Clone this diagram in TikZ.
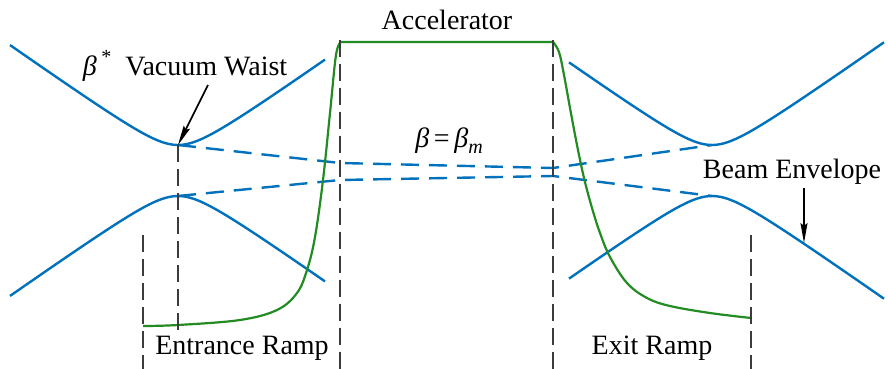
\documentclass[tikz,border=0pt]{standalone}
\usepackage{fontspec}
\setmainfont{LiberationSerif}[Extension=.ttf, UprightFont=*-Regular, ItalicFont=*-Italic, BoldFont=*-Bold]
\newfontfamily\labelfont{LiberationSerif}[Extension=.ttf, UprightFont=*-Regular, ItalicFont=*-Italic, BoldFont=*-Bold]
\usetikzlibrary{arrows.meta}
\definecolor{beamblue}{RGB}{0,114,189}
\definecolor{fieldgreen}{RGB}{34,139,34}
\definecolor{guidegray}{RGB}{60,60,60}
\newcommand{\smallsub}[1]{\raisebox{-0.22em}{\fontsize{20}{20}\selectfont #1}}
\newcommand{\smallsup}[1]{\raisebox{0.42em}{\fontsize{20}{20}\selectfont #1}}
\begin{document}
\begin{tikzpicture}[x=1pt,y=-1pt,
    beam/.style={beamblue, line width=2.4pt},
    beamdash/.style={beam, dash pattern=on 18pt off 10pt},
    field/.style={fieldgreen, line width=2.2pt},
    guide/.style={guidegray, line width=2.8pt, dash pattern=on 17pt off 7pt},
    pointer/.style={black, line width=1.6pt, -{Stealth[length=20pt,width=7pt,inset=3pt]}},
    lbl/.style={font=\labelfont\fontsize{28}{34}\selectfont, inner sep=0pt, anchor=base}]
    \useasboundingbox (0,0) rectangle (888,369);
    % Waists and peaks
    \coordinate (waistpt) at (178,145);
    \coordinate (peakL) at (178,196);
    \coordinate (minR) at (712,145);
    \coordinate (peakR) at (712,196);
    % Beam envelope
    \draw[beam] plot[domain=10:325, samples=80] (\x, {165-sqrt(400+(0.704*(\x-178))^2)});
    \draw[beam] plot[domain=10:325, samples=80] (\x, {176+sqrt(400+(0.704*(\x-178))^2)});
    \draw[beam] plot[domain=569:884, samples=80] (\x, {165-sqrt(400+(0.704*(\x-712))^2)});
    \draw[beam] plot[domain=569:884, samples=80] (\x, {176+sqrt(400+(0.704*(\x-712))^2)});
    \draw[beamdash] (waistpt) -- (340,163) -- (553,168) -- (minR);
    \draw[beamdash] (peakL) -- (340,180) -- (553,176) -- (peakR);
    % Field profile
    \draw[field] plot[smooth, tension=0.6] coordinates {(143,326) (178,325) (240,320) (277,310) (297,293) (307,270) (315,237) (323,180) (330,113) (336,55) (341,42)}
        -- (553,42) -- plot[smooth, tension=0.6] coordinates {(553,42) (559,52) (564,75) (570,108) (577,145) (584,178) (592,208) (600,233) (610,257) (627,283) (647,298) (670,306) (710,313) (751,318)};
    % Guides
    \foreach \gx/\ga/\gb in {143/235/369, 178/145/330, 340/40/369, 553/40/369, 751/235/369}
        \draw[guide] (\gx,\ga) -- (\gx,\gb);
    % Labels
    \node[lbl] (accel) at (447,30) {Accelerator};
    \node[lbl] (waist) at (185,75) {\textit{β}\,\smallsup{*}\ \ Vacuum Waist};
    \node[lbl] (betam) at (449,147) {\textit{β}\,=\,\textit{β}\smallsub{\textit{m}}};
    \node[lbl] (envelope) at (792,178) {Beam Envelope};
    \node[lbl] (entrance) at (242,354) {Entrance Ramp};
    \node[lbl] (exit) at (652,354) {Exit Ramp};
    % Pointers
    \coordinate (waisttail) at (208,85);
    \coordinate (envtail) at (804,188);
    \coordinate (envpt) at (804,243);
    \draw[pointer] (waisttail) -- (waistpt);
    \draw[pointer] (envtail) -- (envpt);
\end{tikzpicture}
\end{document}
